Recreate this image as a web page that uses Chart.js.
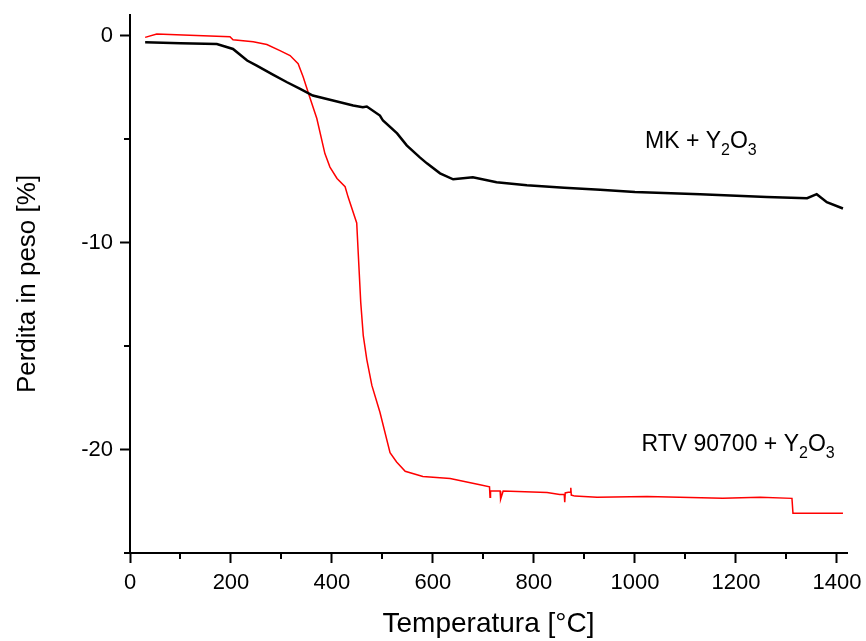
<!DOCTYPE html>
<html>
<head>
<meta charset="utf-8">
<script src="https://cdn.jsdelivr.net/npm/chart.js@4"></script>
<style>
  html, body { margin: 0; padding: 0; background: #fff; }
  #wrap { width: 866px; height: 641px; }
</style>
</head>
<body>
<div id="wrap"><canvas id="tga"></canvas></div>
<script>
// MK + Y2O3 (black)
var mkTemp = [30, 100, 172, 204, 232, 251, 283, 311, 337, 362, 402, 442, 461, 469, 495, 501, 529, 548, 574, 588, 614, 640, 679, 726, 786, 860, 931, 1000, 1129, 1261, 1341, 1360, 1380, 1412]
var mkLoss = [-0.32, -0.36, -0.40, -0.64, -1.2, -1.45, -1.88, -2.25, -2.57, -2.89, -3.13, -3.37, -3.46, -3.42, -3.86, -4.1, -4.72, -5.3, -5.88, -6.17, -6.65, -6.94, -6.84, -7.08, -7.23, -7.35, -7.45, -7.55, -7.66, -7.8, -7.85, -7.66, -8.05, -8.35]

// RTV 90700 + Y2O3 (red)
var rtvTemp = [30, 53, 105, 198, 204, 244, 271, 297, 317, 333, 343, 356, 370, 386, 396, 410, 426, 432, 449, 452, 457, 462, 469, 479, 495, 515, 528, 545, 580, 634, 693, 712, 713, 714, 719, 733, 734, 739, 826, 851, 860, 861, 862, 868, 872, 873, 874, 881, 925, 1024, 1174, 1248, 1311, 1313, 1412]
var rtvLoss = [-0.08, 0.08, 0.03, -0.05, -0.2, -0.29, -0.43, -0.72, -0.96, -1.35, -2.0, -2.97, -4.0, -5.7, -6.35, -6.9, -7.3, -7.8, -9.05, -10.5, -12.9, -14.5, -15.65, -16.9, -18.2, -20.15, -20.6, -21.05, -21.3, -21.4, -21.7, -21.8, -22.3, -22.0, -22.0, -22.0, -22.4, -22.0, -22.08, -22.17, -22.17, -22.55, -22.1, -22.07, -22.07, -21.85, -22.2, -22.25, -22.31, -22.27, -22.36, -22.31, -22.36, -23.08, -23.08]

var xTicks = [0, 200, 400, 600, 800, 1000, 1200, 1400]
var xMinor = [100, 300, 500, 700, 900, 1100, 1300]
var yTicks = [-20, -10, 0]
var yMinor = [-25, -15, -5]

function pairs(xs, ys) {
    var out = []
    for (var i = 0; i < xs.length; i++) out.push({ x: xs[i], y: ys[i] })
    return out
}

var FONT = "'Liberation Sans', Arial, sans-serif"

// minor ticks + curve labels with subscripts
var extras = {
    id: 'extras',
    afterDraw(chart) {
        var ctx = chart.ctx
        var xs = chart.scales.x, ys = chart.scales.y
        ctx.save()
        ctx.strokeStyle = '#000'
        ctx.lineWidth = 2
        ctx.beginPath()
        xMinor.forEach(function (v) {
            var px = Math.round(xs.getPixelForValue(v))
            ctx.moveTo(px, xs.top)
            ctx.lineTo(px, xs.top + 6)
        })
        yMinor.forEach(function (v) {
            var py = Math.round(ys.getPixelForValue(v))
            ctx.moveTo(ys.right, py)
            ctx.lineTo(ys.right - 6, py)
        })
        ctx.stroke()

        var labels = chart.options.plugins.extras.labels
        ctx.fillStyle = '#000'
        ctx.textBaseline = 'alphabetic'
        ctx.textAlign = 'left'
        labels.forEach(function (lab) {
            var px = xs.getPixelForValue(lab.x)
            var py = ys.getPixelForValue(lab.y)
            lab.parts.forEach(function (p) {
                ctx.font = (p[1] ? 16 : 23) + 'px ' + FONT
                ctx.fillText(p[0], px, py + (p[1] ? 7 : 0))
                px += ctx.measureText(p[0]).width
            })
        })
        ctx.restore()
    }
}

new Chart(document.getElementById('tga'), {
    type: 'line',
    data: {
        datasets: [{
            label: 'MK + Y2O3',
            data: pairs(mkTemp, mkLoss),
            borderColor: '#000',
            borderWidth: 2.5,
            pointRadius: 0,
            tension: 0
        }, {
            label: 'RTV 90700 + Y2O3',
            data: pairs(rtvTemp, rtvLoss),
            borderColor: '#ff0000',
            borderWidth: 1.5,
            pointRadius: 0,
            tension: 0
        }]
    },
    options: {
        responsive: true,
        maintainAspectRatio: false,
        animation: false,
        layout: { padding: { top: 15, right: 19, left: 0, bottom: 0 } },
        plugins: {
            legend: { display: false },
            tooltip: { enabled: false },
            extras: {
                labels: [
                    { x: 1020, y: -5.45, parts: [['MK + Y', 0], ['2', 1], ['O', 0], ['3', 1]] },
                    { x: 1013, y: -20.08, parts: [['RTV 90700 + Y', 0], ['2', 1], ['O', 0], ['3', 1]] }
                ]
            }
        },
        scales: {
            x: {
                type: 'linear',
                min: 0,
                max: 1420,
                afterBuildTicks: function (s) { s.ticks = xTicks.map(function (v) { return { value: v } }) },
                afterFit: function (s) { s.height = 88; s.paddingLeft = 0; s.paddingRight = 0 },
                border: { display: true, color: '#000', width: 2 },
                grid: { drawOnChartArea: false, drawTicks: true, tickLength: 10, tickColor: '#000', tickWidth: 2 },
                ticks: { color: '#000', padding: 7, maxRotation: 0, font: { family: FONT, size: 22 },
                    callback: function (v) { return String(v) } },
                title: { display: true, text: 'Temperatura [°C]', color: '#000', padding: { top: 0, bottom: 0 }, font: { family: FONT, size: 28 } }
            },
            y: {
                type: 'linear',
                min: -25,
                max: 1,
                afterBuildTicks: function (s) { s.ticks = yTicks.map(function (v) { return { value: v } }) },
                afterFit: function (s) { s.width = 130; s.paddingTop = 0; s.paddingBottom = 0 },
                border: { display: true, color: '#000', width: 2 },
                grid: { drawOnChartArea: false, drawTicks: true, tickLength: 10, tickColor: '#000', tickWidth: 2 },
                ticks: { color: '#000', padding: 7, font: { family: FONT, size: 22 },
                    callback: function (v) { return String(v) } },
                title: { display: true, text: 'Perdita in peso [%]', color: '#000', padding: { top: 12, bottom: 0 }, font: { family: FONT, size: 26 } }
            }
        }
    },
    plugins: [extras]
})
</script>
</body>
</html>
